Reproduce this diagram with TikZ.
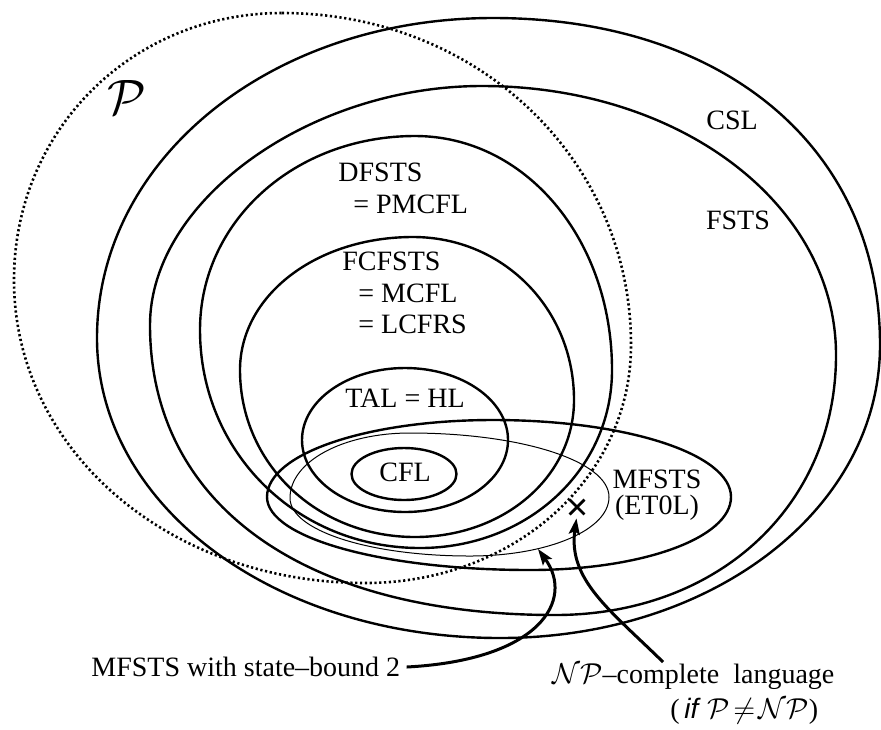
\documentclass[tikz,border=0pt]{standalone}
\usepackage{fontspec}
\setmainfont{Liberation Serif}
\setsansfont{Liberation Sans}
\usetikzlibrary{arrows.meta,shapes.misc,calc}
% closed oval through top, right, bottom and left extremes (#2..#5),
% with one handle factor per quarter (#6..#9)
\newcommand\eggloop[9]{%
  \draw[#1] (#2) .. controls ($(#2)!#6!(#3|-#2)$) and ($(#3)!#6!(#3|-#2)$) .. (#3)
    .. controls ($(#3)!#7!(#3|-#4)$) and ($(#4)!#7!(#3|-#4)$) .. (#4)
    .. controls ($(#4)!#8!(#5|-#4)$) and ($(#5)!#8!(#5|-#4)$) .. (#5)
    .. controls ($(#5)!#9!(#5|-#2)$) and ($(#2)!#9!(#5|-#2)$) .. (#2) -- cycle;}
\begin{document}
\begin{tikzpicture}[x=0.5pt,y=-0.5pt,
  set/.style={line width=1.2pt, line join=round},
  thinset/.style={line width=0.5pt, line join=round},
  pclass/.style={line width=1.3pt, dash pattern=on 1.1pt off 1.3pt},
  lbl/.style={inner sep=0pt, font=\fontsize{14}{15.75}\selectfont},
  pointer/.style={line width=1.5pt, -{Stealth[length=8pt,width=5.5pt,inset=1.5pt]}},
  xmark/.style={draw, cross out, line width=1.4pt, minimum size=6pt, inner sep=0pt},
]
\useasboundingbox (0,0) rectangle (881,729);

% extreme points of the class boundaries
\coordinate (pT) at (282,13);   \coordinate (pR) at (631,345);
\coordinate (pB) at (365,583);  \coordinate (pL) at (14,280);
\coordinate (cslT) at (493,18); \coordinate (cslR) at (880,345);
\coordinate (cslB) at (500,638);\coordinate (cslL) at (97,338);
\coordinate (fstsT) at (482,86); \coordinate (fstsR) at (836,355);
\coordinate (fstsB) at (555,615);\coordinate (fstsL) at (150,325);
\coordinate (dfT) at (415,136); \coordinate (dfR) at (612,370);
\coordinate (dfB) at (420,548); \coordinate (dfL) at (200,330);
\coordinate (fcT) at (413,237); \coordinate (fcR) at (574,400);
\coordinate (fcB) at (415,537); \coordinate (fcL) at (240,370);
\coordinate (mfT) at (493,420); \coordinate (mfR) at (731,497);
\coordinate (mfB) at (530,570); \coordinate (mfL) at (267,497);
\coordinate (sbT) at (410,433); \coordinate (sbR) at (609,497);
\coordinate (sbB) at (470,556); \coordinate (sbL) at (290,498);

% class P (dotted)
\eggloop{pclass}{pT}{pR}{pB}{pL}{0.56}{0.56}{0.56}{0.56}
% CSL
\eggloop{set}{cslT}{cslR}{cslB}{cslL}{0.6}{0.56}{0.56}{0.56}
% FSTS
\eggloop{set}{fstsT}{fstsR}{fstsB}{fstsL}{0.56}{0.58}{0.62}{0.52}
% DFSTS = PMCFL
\eggloop{set}{dfT}{dfR}{dfB}{dfL}{0.56}{0.56}{0.56}{0.56}
% FCFSTS = MCFL = LCFRS
\eggloop{set}{fcT}{fcR}{fcB}{fcL}{0.56}{0.56}{0.56}{0.56}
% TAL = HL
\draw[set] (405,440) ellipse [x radius=51.5pt, y radius=36pt];
% CFL
\draw[set] (404,474) ellipse [x radius=26.25pt, y radius=13pt];
% MFSTS (ET0L)
\eggloop{set}{mfT}{mfR}{mfB}{mfL}{0.56}{0.56}{0.56}{0.56}
% MFSTS with state-bound 2
\eggloop{thinset}{sbT}{sbR}{sbB}{sbL}{0.56}{0.56}{0.56}{0.56}

% labels
\node[lbl] (plbl) at (127,97) {\fontsize{25}{25}\selectfont$\mathcal{P}$};
\node[lbl] (csl) at (732,120) {CSL};
\node[lbl] (fsts) at (738,220) {FSTS};
\node[lbl, anchor=north west, align=left] (dfsts) at (338,163)
  {DFSTS\\\hspace*{7.5pt}= PMCFL};
\node[lbl, anchor=north west, align=left] (fcfsts) at (342,252)
  {FCFSTS\\\hspace*{8pt}= MCFL\\\hspace*{8pt}= LCFRS};
\node[lbl] (tal) at (405,398) {TAL = HL};
\node[lbl] (cfl) at (405,472) {CFL};
\node[lbl, anchor=north, align=center, font=\fontsize{14}{13}\selectfont] (mfsts) at (657,470)
  {MFSTS\\(ET0L)};

% NP-complete language and pointers
\node[xmark] (npx) at (577,507) {};
\coordinate (sbtip) at (538,549);
\node[lbl, anchor=west] (sblbl) at (91,667) {MFSTS with state--bound 2};
\node[lbl, anchor=base west] (nplbl) at (552,683)
  {$\mathcal{N}\mathcal{P}$--complete\ \ language};
\node[lbl, anchor=base west] (ifnp) at (670,718)
  {(\,\textsf{\itshape if} $\mathcal{P}\!\neq\!\mathcal{N}\mathcal{P}$)};

\coordinate (npfoot) at (663,662);
\draw[pointer] ([xshift=3pt]sblbl.east) .. controls (540,660) and (575,600) .. (sbtip);
\draw[pointer, shorten >=2pt] (npfoot) .. controls (610,610) and (568,580) .. (npx.south);
\end{tikzpicture}
\end{document}
